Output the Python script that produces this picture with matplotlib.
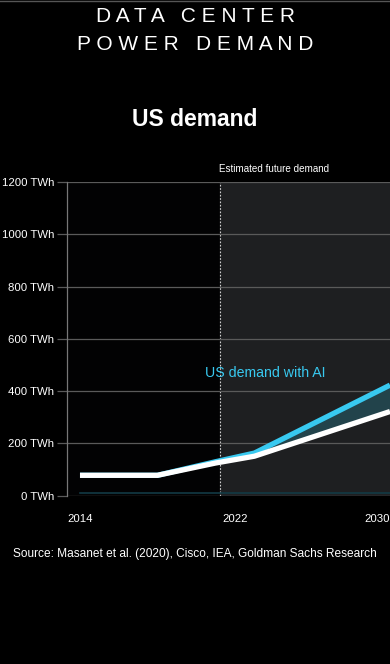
import matplotlib.pyplot as plt
import matplotlib.ticker as mticker

# valores (TWh)
anios = [2014, 2018, 2021, 2023, 2030]
demanda_base = [78, 78, 125, 151, 322]
demanda_ia = [78, 78, 130, 163, 423]
demanda_solo_ia = [12, 12, 12, 12, 12]
inicio_futuro = 2021.25

ticks_y = [0, 200, 400, 600, 800, 1000, 1200]
ticks_x = [2014, 2022, 2030]

FONDO = "#000000"
CIAN = "#38c9f0"

plt.rcParams['font.family'] = ['Liberation Sans', 'DejaVu Sans']

fig = plt.figure(figsize=(3.9, 6.64), dpi=100, facecolor=FONDO)
W, H = 390, 664
ax = fig.add_axes([67 / W, 1 - 495.7 / H, 323 / W, 313.7 / H])
ax.set_facecolor("#020203")

ax.set_xlim(2013.33, 2030)
ax.set_ylim(0, 1200)

# zona de demanda futura estimada
ax.axvspan(inicio_futuro, 2030, color="#1e1f21", zorder=0)
ax.axvline(inicio_futuro, color="#cfcfcf", lw=0.8, ls=(0, (1.5, 1.5)), zorder=1)
ax.text(inicio_futuro - 0.05, 1250, "Estimated future demand", color="white",
        fontsize=7.1, ha="left", va="center")

ax.set_yticks(ticks_y)
ax.yaxis.set_major_formatter(mticker.FuncFormatter(lambda v, p: f"{int(v)} TWh"))
ax.grid(axis="y", color="#5a5a5a", lw=0.9, zorder=1)
ax.set_xticks(ticks_x)
ax.tick_params(axis="y", colors="#5a5a5a", labelcolor="white", labelsize=8.2,
               length=7, width=0.9, pad=2)
ax.tick_params(axis="x", length=0, labelcolor="white", labelsize=8.2, pad=13)
etiquetas = ax.get_xticklabels()
etiquetas[-1].set_ha("right")

for lado in ["top", "right", "bottom"]:
    ax.spines[lado].set_visible(False)
ax.spines["left"].set_color("#777777")
ax.spines["left"].set_linewidth(0.9)

ax.plot(anios, demanda_solo_ia, color="#123a44", lw=1.2, zorder=2)
ax.fill_between(anios, demanda_base, demanda_ia, color="#22434b", zorder=2, lw=0)
ax.plot(anios, demanda_ia, color=CIAN, lw=3.8, zorder=3, solid_capstyle="butt")
ax.plot(anios, demanda_base, color="white", lw=3.8, zorder=4, solid_capstyle="butt")
ax.text(2020.45, 470, "US demand with AI", color=CIAN, fontsize=10.2,
        ha="left", va="center")

# titulos
fig.text(0.5, 1 - 16 / H, "D A T A   C E N T E R", color="white", fontsize=15,
         ha="center", va="center", fontweight="light")
fig.text(0.5, 1 - 44 / H, "P O W E R   D E M A N D", color="white", fontsize=15,
         ha="center", va="center", fontweight="light")
fig.text(0.5, 1 - 119 / H, "US demand", color="white", fontsize=16.5,
         ha="center", va="center", fontweight="bold")
fig.text(0.5, 1 - 553.5 / H,
         "Source: Masanet et al. (2020), Cisco, IEA, Goldman Sachs Research",
         color="white", fontsize=8.6, ha="center", va="center")

fig.add_artist(plt.Line2D([0, 1], [1 - 0.5 / H, 1 - 0.5 / H], color="#555555", lw=1))

fig.savefig("out.png", dpi=100, facecolor=FONDO)
